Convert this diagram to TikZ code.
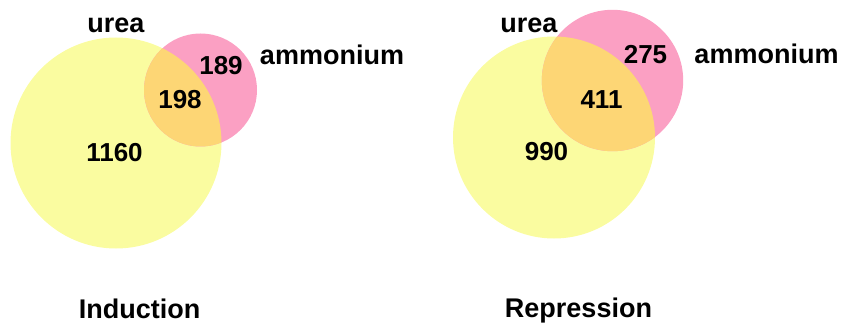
\documentclass[tikz,border=0pt]{standalone}
\usepackage{fontspec}
\setmainfont{Liberation Sans}
\definecolor{ureaYellow}{RGB}{250,252,160}
\definecolor{ammPink}{RGB}{251,160,195}
\definecolor{bothOrange}{RGB}{253,214,117}
\begin{document}
\begin{tikzpicture}[x=1pt,y=-1pt,
  setlabel/.style={font=\fontsize{27}{30}\selectfont\bfseries,anchor=base,inner sep=0pt},
  countlabel/.style={font=\fontsize{26}{29}\selectfont\bfseries,anchor=base,inner sep=0pt}]
\useasboundingbox (0,0) rectangle (844,326);

% Induction
\fill[ureaYellow] (116,143) circle[radius=105.5];
\fill[ammPink] (200.5,90) circle[radius=56.5];
\begin{scope}
  \clip (116,143) circle[radius=105.5];
  \fill[bothOrange] (200.5,90) circle[radius=56.5];
\end{scope}
\node[setlabel] (ureaA) at (116,33) {urea};
\node[setlabel] (ammA) at (332,65) {ammonium};
\node[countlabel] (onlyAmmA) at (221,75) {189};
\node[countlabel] (bothA) at (180,109) {198};
\node[countlabel] (onlyUreaA) at (114.5,162) {1160};
\node[setlabel] (titleA) at (139.5,318) {Induction};

% Repression
\fill[ureaYellow] (554,137.5) circle[radius=101];
\fill[ammPink] (612.5,80.5) circle[radius=70.7];
\begin{scope}
  \clip (554,137.5) circle[radius=101];
  \fill[bothOrange] (612.5,80.5) circle[radius=70.7];
\end{scope}
\node[setlabel] (ureaB) at (529,33) {urea};
\node[setlabel] (ammB) at (766.5,64) {ammonium};
\node[countlabel] (onlyAmmB) at (645.5,64) {275};
\node[countlabel] (bothB) at (601.5,109) {411};
\node[countlabel] (onlyUreaB) at (546.5,161) {990};
\node[setlabel] (titleB) at (578.5,317) {Repression};
\end{tikzpicture}
\end{document}
